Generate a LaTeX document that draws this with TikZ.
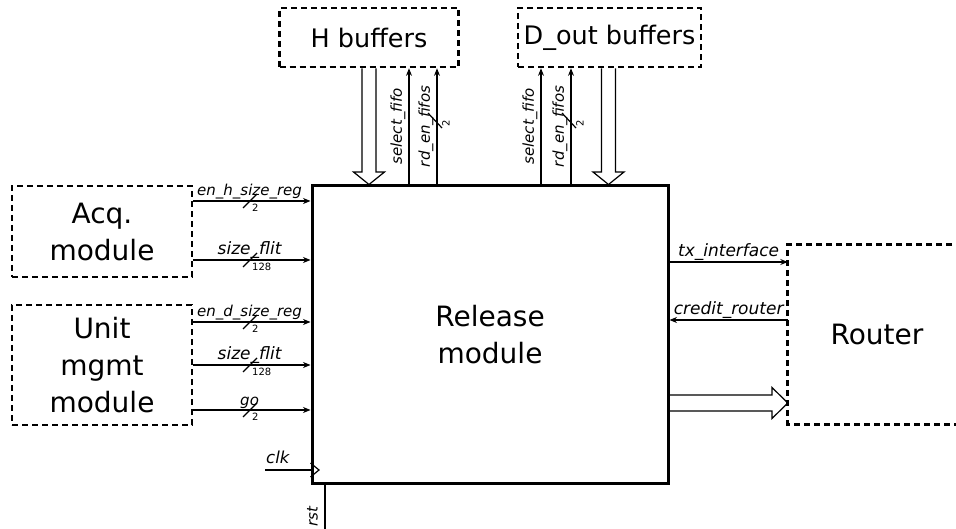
\documentclass[tikz,border=0pt]{standalone}
\usepackage{fontspec}
\setmainfont{DejaVu Sans}
\usetikzlibrary{arrows.meta,positioning}

\begin{document}
\begin{tikzpicture}[
  x=1pt,y=-1pt,
  blk/.style={draw,line width=2.7pt,dash pattern=on 6pt off 4pt,align=center,
    inner sep=0pt,font=\fontsize{28}{37}\selectfont},
  buf/.style={blk,font=\fontsize{25.5}{30}\selectfont},
  sig/.style={-{Stealth[length=7.5pt,width=6pt]},line width=1.1pt},
  wire/.style={line width=1.2pt},
  fat/.style={line width=1.2pt,line join=miter},
  lbl/.style={font=\fontsize{15}{18}\selectfont\itshape,inner sep=1pt},
  vlbl/.style={lbl,rotate=90,anchor=south,inner sep=3pt},
  wid/.style={font=\fontsize{10}{11}\selectfont,inner sep=0pt}
]
\useasboundingbox (0,0) rectangle (956,529);

% blocks
\node[blk,minimum width=180pt,minimum height=91pt] (acq) at (102,231.5) {Acq.\\module};
\node[blk,minimum width=180pt,minimum height=120pt] (unit) at (102,365) {Unit\\mgmt\\module};
\node[draw,line width=3pt,minimum width=356pt,minimum height=297pt,align=center,
  font=\fontsize{28}{37}\selectfont] (rel) at (490,334.5) {Release\\module};
\node[buf,minimum width=179pt,minimum height=59pt] (hbuf) at (369,37.5) {H buffers};
\node[buf,minimum width=183pt,minimum height=59pt] (dbuf) at (609.5,37.5) {D\_out buffers};
\node[minimum width=178pt,minimum height=179pt,inner sep=0pt,
  font=\fontsize{28}{37}\selectfont] (router) at (877,334.5) {Router};
\draw[line width=2.7pt,dash pattern=on 6pt off 4pt] ([xshift=6pt]router.north east)
  -- (router.north west) -- (router.south west) -- ([xshift=6pt]router.south east);

% inputs from the left
\foreach \src/\yy/\nm/\w/\fs in {acq/201/en\_h\_size\_reg/2/15, acq/260/size\_flit/128/17,
    unit/322/en\_d\_size\_reg/2/15, unit/365/size\_flit/128/17, unit/410/go/2/15}{
  \draw[sig] (\src.east |- 0,\yy) -- node[lbl,font=\fontsize{\fs}{20}\selectfont\itshape,
    pos=.48,above] (s\yy) {\nm} (rel.west |- 0,\yy);
  \draw[wire] (243,\yy+7) -- (257,\yy-7);
  \node[wid,anchor=north west] (w\yy) at (252,\yy+3) {\w};
}

% buffer interfaces
\foreach \xs/\xr/\xf/\buf in {409/437/369/hbuf, 541/571/608.5/dbuf}{
  \draw[sig] (rel.north -| \xs,0) -- node[vlbl] (sel\buf) {select\_fifo} (\buf.south -| \xs,0);
  \draw[sig] (rel.north -| \xr,0) -- node[vlbl] (rd\buf) {rd\_en\_fifos} (\buf.south -| \xr,0);
  \draw[wire] (\xr-9,113) -- (\xr+5,128);
  \node[wid,rotate=90] (w\buf) at (\xr+9,123) {2};
  \draw[fat] (\buf.south -| \xf-7,0) -- (\xf-7,172) -- (\xf-15.5,172) -- (rel.north -| \xf,0)
    -- (\xf+15.5,172) -- (\xf+7,172) -- (\buf.south -| \xf+7,0);
}

% router interface
\draw[sig] (rel.east |- 0,262) -- node[lbl,font=\fontsize{17}{20}\selectfont\itshape,above]
  (tx) {tx\_interface} (router.west |- 0,262);
\draw[sig] (router.west |- 0,320) -- node[lbl,font=\fontsize{17}{20}\selectfont\itshape,above]
  (cr) {credit\_router} (rel.east |- 0,320);
\draw[fat] (rel.east |- 0,395) -- (772,395) -- (772,387.5) -- (router.west |- 0,403)
  -- (772,418.5) -- (772,411) -- (rel.east |- 0,411);

% clock and reset
\coordinate (clkin) at (265,470);
\draw[wire] (clkin) -- (rel.west |- clkin);
\draw[wire] (rel.west |- 0,463) -- (319,470) -- (rel.west |- 0,477);
\node[lbl,font=\fontsize{16.5}{20}\selectfont\itshape,anchor=south west,yshift=5pt]
  (clk) at (clkin) {clk};
\coordinate (rstin) at (325,529);
\draw[wire] (rel.south -| rstin) -- (rstin);
\node[lbl,rotate=90,anchor=south,inner sep=0pt] (rst) at (318,517) {rst};
\end{tikzpicture}
\end{document}
